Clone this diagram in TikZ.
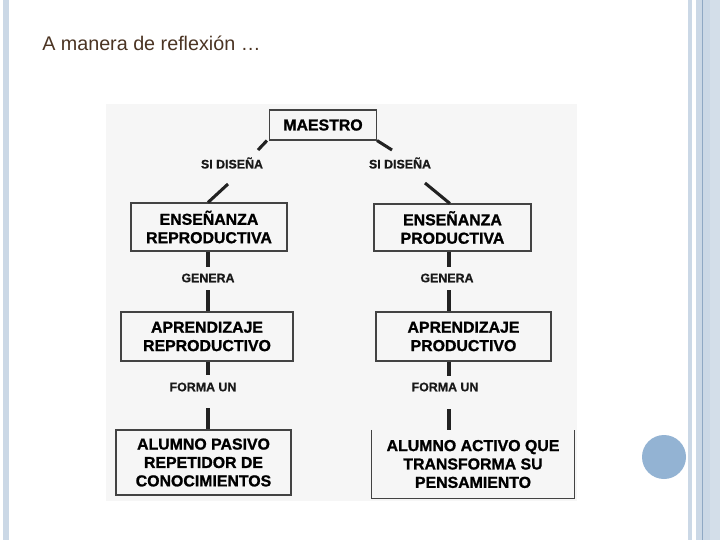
\documentclass[tikz,border=0pt]{standalone}
\usepackage{fontspec}
\setmainfont{Liberation Sans}
\newfontfamily\heavyfont[FakeBold=1.2]{Liberation Sans Bold}
\newfontfamily\lblfont[FakeBold=0.6]{Liberation Sans Bold}
\definecolor{stripe}{HTML}{CBD8E6}
\definecolor{stripeB}{HTML}{D3DEE9}
\definecolor{stripeD}{HTML}{8FA8C4}
\definecolor{dot}{HTML}{93B3D3}
\definecolor{titlec}{HTML}{4B3423}
\definecolor{panel}{HTML}{F6F6F6}
\definecolor{ink}{HTML}{222222}
\begin{document}
\begin{tikzpicture}[x=0.75pt,y=-0.75pt,
  box/.style={draw=ink!85,line width=0.8pt,align=center,inner sep=0pt,
    font=\heavyfont\fontsize{11.9}{13.8}\selectfont,text=black},
  lbl/.style={inner sep=0pt,font=\lblfont\fontsize{9.3}{11}\selectfont,text=black!90},
  conn/.style={draw=ink,line width=2.3pt}]
\useasboundingbox (0,0) rectangle (720,540);
\fill[white] (0,0) rectangle (720,540);
% slide decorations
\fill[stripe] (3,0) rectangle (9,540);
\fill[stripe] (688,0) rectangle (692,540);
\fill[stripe] (696,0) rectangle (702,540);
\fill[stripeD] (702,0) rectangle (703,540);
\fill[stripe] (703,0) rectangle (710,540);
\fill[stripeB] (710,0) rectangle (720,540);
\fill[dot] (664,457) circle (22);
% title
\node[anchor=base west,inner sep=0pt,text=titlec,font=\fontsize{14.8}{17}\selectfont] (title) at (42,50) {A manera de reflexión …};
% panel
\fill[panel] (106,104) rectangle (577,501);
% boxes
\node[box,minimum width=80.25pt,minimum height=22.5pt] (maestro) at (323,125) {MAESTRO};
\node[box,minimum width=117pt,minimum height=36pt] (ensR) at (209,227) {ENSEÑANZA\\REPRODUCTIVA};
\node[box,minimum width=117.75pt,minimum height=35.25pt] (ensP) at (452.5,227.5) {ENSEÑANZA\\PRODUCTIVA};
\node[box,minimum width=129pt,minimum height=36.75pt] (apR) at (207,336.5) {APRENDIZAJE\\REPRODUCTIVO};
\node[box,minimum width=131.25pt,minimum height=36.75pt] (apP) at (463.5,336.5) {APRENDIZAJE\\PRODUCTIVO};
\node[box,minimum width=131.25pt,minimum height=48.75pt] (alP) at (203.5,462.5) {ALUMNO PASIVO\\REPETIDOR DE\\CONOCIMIENTOS};
\node[box,draw=none,minimum width=151.5pt,minimum height=50.25pt] (alA) at (473,464) {ALUMNO ACTIVO QUE\\TRANSFORMA SU\\PENSAMIENTO};
\draw[ink!85,line width=0.8pt] (alA.north west) -- (alA.south west) -- (alA.south east) -- (alA.north east);
% labels
\node[lbl] (sdL) at (232,163) {SI DISEÑA};
\node[lbl] (sdR) at (400,163) {SI DISEÑA};
\node[lbl] (genL) at (208,278) {GENERA};
\node[lbl] (genR) at (447,278) {GENERA};
\node[lbl] (fuL) at (203,387) {FORMA UN};
\node[lbl] (fuR) at (445,387) {FORMA UN};
% connector columns and gap ends
\coordinate (cl) at (208,0);
\coordinate (cr) at (449,0);
\coordinate (dL1) at (258,150);
\coordinate (dL2) at (228,184);
\coordinate (dR1) at (392,150);
\coordinate (dR2) at (425,183);
\coordinate (gL1) at (208,267);
\coordinate (gL2) at (208,290);
\coordinate (gR1) at (449,267);
\coordinate (gR2) at (449,290);
\coordinate (fL1) at (208,375);
\coordinate (fL2) at (208,408);
\coordinate (fR1) at (449,376);
\coordinate (fR2) at (449,409);
% connectors
\draw[conn] ([xshift=-1.5pt]maestro.south west) -- (dL1);
\draw[conn] (dL2) -- ([xshift=-0.75pt]ensR.north);
\draw[conn] (maestro.south east) -- (dR1);
\draw[conn] (dR2) -- ([xshift=-2pt]ensP.north);
\draw[conn] (cl |- ensR.south) -- (gL1);
\draw[conn] (gL2) -- (cl |- apR.north);
\draw[conn] (cr |- ensP.south) -- (gR1);
\draw[conn] (gR2) -- (cr |- apP.north);
\draw[conn] (cl |- apR.south) -- (fL1);
\draw[conn] (fL2) -- (cl |- alP.north);
\draw[conn] (cr |- apP.south) -- (fR1);
\draw[conn] (fR2) -- (cr |- alA.north);
\end{tikzpicture}
\end{document}
